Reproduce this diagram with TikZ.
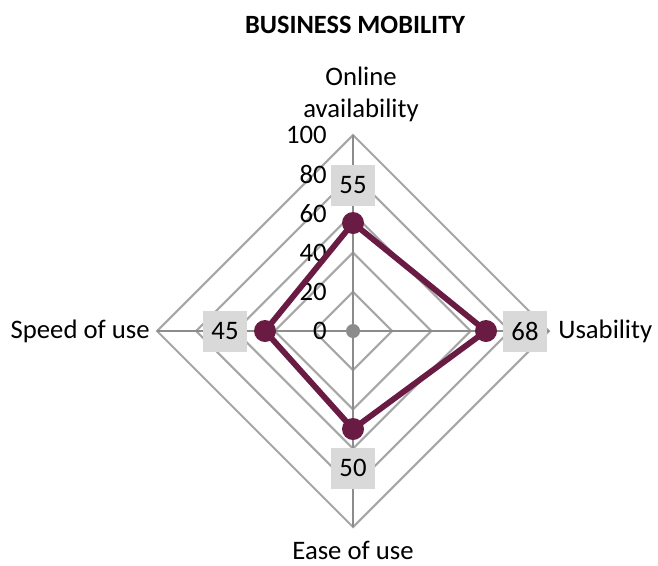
\documentclass[tikz,border=0pt]{standalone}
\usepackage{fontspec}
\setmainfont{Carlito}

\definecolor{gridgray}{HTML}{A6A6A6}
\definecolor{axisgray}{HTML}{8C8C8C}
\definecolor{plum}{HTML}{6A1B43}
\definecolor{boxgray}{HTML}{D9D9D9}

\tikzset{
	ring/.style={draw=gridgray, line width=1.2pt},
	spoke/.style={draw=axisgray, line width=1.2pt},
	valbox/.style={fill=boxgray, minimum width=0.88cm, minimum height=0.82cm, inner sep=0pt},
	catlabel/.style={inner sep=0pt, align=center},
	dot/.style={circle, fill=plum, minimum size=0.44cm, inner sep=0pt}
}

\begin{document}
\begin{tikzpicture}[x=0.02cm, y=-0.02cm, font=\fontsize{15.2}{18.2}\selectfont]
	\useasboundingbox (0,0) rectangle (658,565);
	\coordinate (c) at (353,331);

	% grid diamonds
	\foreach \r in {39.2,78.4,117.6,156.8,196}
		\draw[ring] (353,331-\r) -- (353+\r,331) -- (353,331+\r) -- (353-\r,331) -- cycle;

	% spokes
	\coordinate (top)   at (353,135);
	\coordinate (right) at (549,331);
	\coordinate (bot)   at (353,527);
	\coordinate (left)  at (157,331);
	\draw[spoke] (c) -- (top);
	\draw[spoke] (c) -- (right);
	\draw[spoke] (c) -- (bot);
	\draw[spoke] (c) -- (left);

	% scale
	\foreach \v in {0,20,...,100}
		\node[anchor=east, inner sep=0pt] at (327,331-\v*1.96) {\v};

	\fill[axisgray] (c) circle (7);

	% data
	\node[dot] (online) at (353,223) {};
	\node[dot] (usab)   at (486,331) {};
	\node[dot] (ease)   at (353,429) {};
	\node[dot] (speed)  at (265,331) {};
	\draw[plum, line width=3.3pt, line join=round]
		(online.center) -- (usab.center) -- (ease.center) -- (speed.center) -- cycle;

	\node[valbox] (v55) at (353,185) {55};
	\node[valbox] (v68) at (525,331) {68};
	\node[valbox] (v50) at (353,468) {50};
	\node[valbox] (v45) at (225,331) {45};

	% categories
	\node[catlabel] (lonline) at (361,94)  {Online\\availability};
	\node[catlabel, anchor=west] (lusab) at (558,331) {Usability};
	\node[catlabel] (lease)  at (353,550) {Ease of use};
	\node[catlabel, anchor=east] (lspeed) at (150,331) {Speed of use};

	\node[font=\fontsize{15}{18}\selectfont\bfseries] (title) at (355,25) {BUSINESS MOBILITY};
\end{tikzpicture}
\end{document}
